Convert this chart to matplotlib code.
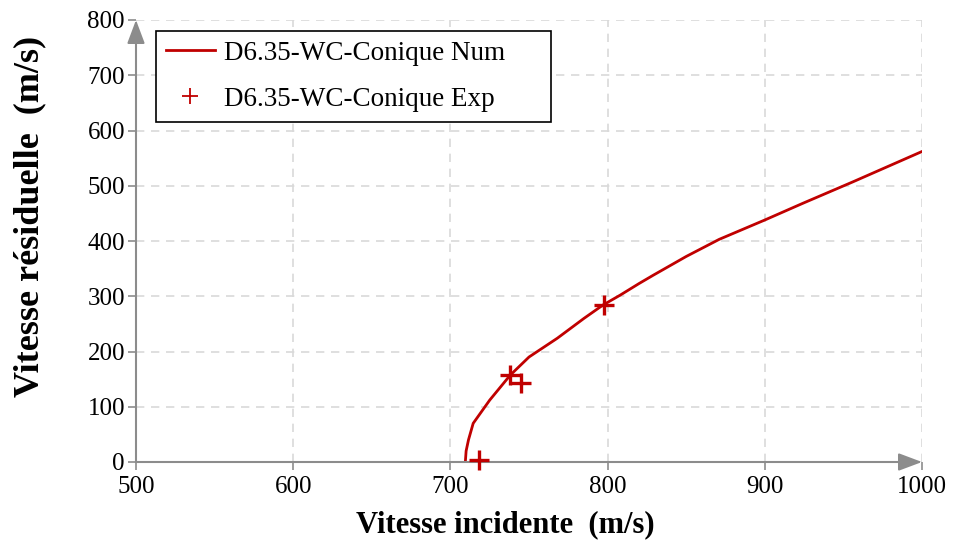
import matplotlib.pyplot as plt
import matplotlib

matplotlib.rcParams.update({
    "font.family": ["Liberation Serif", "DejaVu Serif"],
    "font.size": 18,
})

C_RED = "#C00000"
C_AXIS = "#8C8C8C"
C_GRID = "#D9D9D9"

# Courbe numérique
num_v_inc = [709.5, 710, 711.5, 714.5, 725, 738, 750, 768, 785, 797, 808,
             820, 829, 850, 871, 900, 924, 956, 1000]
num_v_res = [0, 20, 40, 70, 112, 157, 190, 224, 260, 284, 302,
             323, 338, 372, 403, 438, 468, 507, 562]

# Points expérimentaux
exp_v_inc = [718, 738, 745, 798]
exp_v_res = [3, 157, 143, 284]

x_ticks = [500, 600, 700, 800, 900, 1000]
y_ticks = [0, 100, 200, 300, 400, 500, 600, 700, 800]

fig = plt.figure(figsize=(9.57, 5.46), dpi=100)
ax = fig.add_axes([136 / 957, 1 - 462 / 546, 786 / 957, 442 / 546])

ax.plot(num_v_inc, num_v_res, color=C_RED, lw=2.0, label="D6.35-WC-Conique Num", zorder=3)
ax.plot(exp_v_inc, exp_v_res, ls="none", marker="+", ms=15, mew=2.4, color=C_RED,
        label="D6.35-WC-Conique Exp", zorder=4, clip_on=False)

ax.set_xlim(500, 1000)
ax.set_ylim(0, 800)
ax.set_xticks(x_ticks)
ax.set_yticks(y_ticks)
ax.grid(True, color=C_GRID, ls=(0, (5, 4)), lw=1.2, zorder=0)

for s in ["top", "right", "left", "bottom"]:
    ax.spines[s].set_visible(False)
ax.tick_params(axis="both", direction="out", length=6, width=1.2, color=C_AXIS,
               labelsize=18)
ax.tick_params(axis="y", pad=2)
ax.tick_params(axis="x", pad=4)

# axes avec fleches
for tip in [(0, 1), (1, 0)]:
    ax.annotate("", xy=tip, xytext=(0, 0), xycoords="axes fraction",
                arrowprops=dict(arrowstyle="-|>,head_length=0.8,head_width=0.3",
                                color=C_AXIS, lw=1.5, shrinkA=0, shrinkB=0))

ax.set_xlabel("Vitesse incidente  (m/s)", fontsize=22, fontweight="bold")
ax.set_ylabel("Vitesse résiduelle  (m/s)", fontsize=26, fontweight="bold")
ax.xaxis.set_label_coords(0.47, -0.108)
ax.yaxis.set_label_coords(-0.114, 0.555)

leg = ax.legend(loc="upper left", bbox_to_anchor=(0.025, 0.976, 0.5025, 0), mode="expand",
                borderaxespad=0, fontsize=19.5, frameon=True, fancybox=False,
                edgecolor="black", framealpha=1, handlelength=1.8, handletextpad=0.35,
                borderpad=0.38, labelspacing=0.77, markerscale=0.75)
leg.get_frame().set_linewidth(1.2)
leg.legend_handles[1].set_markeredgewidth(1.3)

fig.savefig("out.png", dpi=100)
